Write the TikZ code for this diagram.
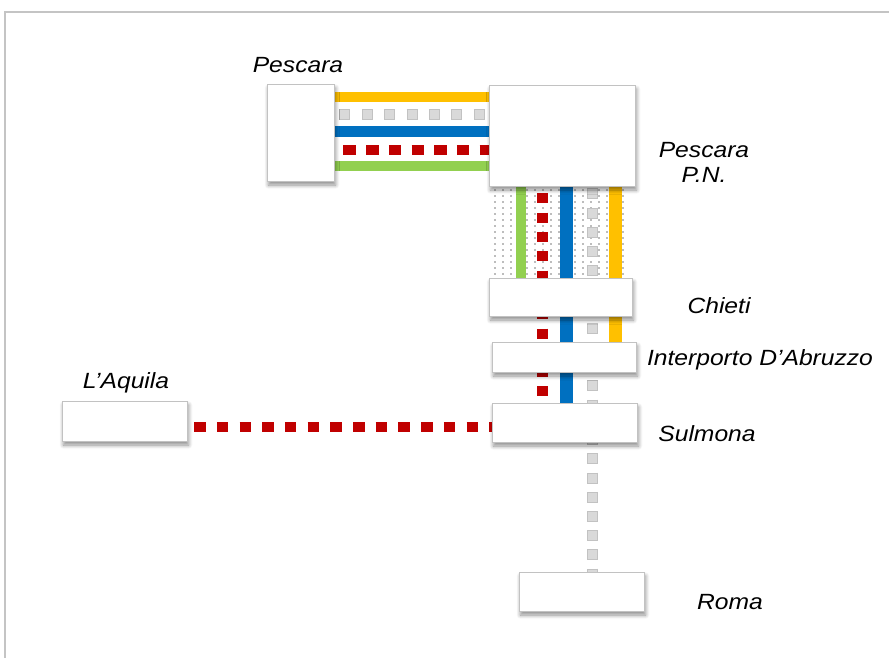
\documentclass[tikz,border=0pt]{standalone}
\usepackage{fontspec}
\setmainfont{Liberation Sans}
\usetikzlibrary{shadows.blur}
\definecolor{cyel}{HTML}{FFC000}
\definecolor{cblue}{HTML}{0070C0}
\definecolor{cgreen}{HTML}{92D050}
\definecolor{cred}{HTML}{C00000}
\definecolor{cgrayo}{HTML}{C2C2C2}
\definecolor{cgrayi}{HTML}{D9D9D9}
\definecolor{cframe}{HTML}{C4C4C4}
\definecolor{cdot}{HTML}{7A7A7A}
\pgfdeclarelayer{bg}
\pgfsetlayers{bg,main}
\begin{document}
\begin{tikzpicture}[x=1pt,y=-1pt,
  box/.style={draw=cgrayo, line width=0.8pt, fill=white, inner sep=0pt,
    blur shadow={shadow xshift=1.5pt, shadow yshift=-4pt, shadow blur radius=4pt, shadow blur steps=8, shadow opacity=45}},
  lbl/.style={font=\fontsize{22}{25}\selectfont\itshape, inner sep=0pt, align=center, text=black},
  yelline/.style={cyel, line width=10pt},
  blueline/.style={cblue, line width=11pt},
  greenline/.style={cgreen, line width=10pt},
  redh/.style={cred, line width=9.5pt, dash pattern=on 12.5pt off 10.2pt},
  redv/.style={cred, line width=11pt, dash pattern=on 10pt off 9.3pt},
  grayo/.style={cgrayo, line width=11pt},
  grayi/.style={cgrayi, line width=9pt},
]
\useasboundingbox (0,0) rectangle (889,658);
% frame
\draw[cframe, line width=2.5pt] (5,658) -- (5,12) -- (889,12);

% stations
\node[box, minimum width=67pt, minimum height=97pt] (pes) at (300.5,132.5) {};
\node[box, minimum width=146pt, minimum height=101pt] (pn) at (562,135.5) {};
\node[box, minimum width=143pt, minimum height=38pt] (chi) at (560.5,297) {};
\node[box, minimum width=144pt, minimum height=30pt] (int) at (564,357) {};
\node[box, minimum width=145pt, minimum height=39pt] (sul) at (564.5,422.5) {};
\node[box, minimum width=125pt, minimum height=40pt] (aq) at (124.5,421) {};
\node[box, minimum width=125pt, minimum height=39pt] (rom) at (581.5,591.5) {};

% labels
\node[lbl] (lpes) at (298,65) {\scalebox{1.12}[1]{Pescara}};
\node[lbl] (lpn) at (704,162) {\scalebox{1.12}[1]{Pescara}\\\scalebox{1.12}[1]{P.N.}};
\node[lbl] (lchi) at (719,306) {\scalebox{1.12}[1]{Chieti}};
\node[lbl] (lint) at (760,360) {\scalebox{1.12}[1]{Interporto D’Abruzzo}};
\node[lbl] (laq) at (126,383) {\scalebox{1.12}[1]{L’Aquila}};
\node[lbl] (lsul) at (707,434) {\scalebox{1.12}[1]{Sulmona}};
\node[lbl] (lrom) at (730,602) {\scalebox{1.12}[1]{Roma}};

\begin{pgfonlayer}{bg}
  % stipple between Pescara P.N. and Chieti
  \foreach \xx in {495,503,...,627}
    \foreach \yy in {190,196,...,276}
      \fill[cdot] (\xx,\yy) circle (0.8pt);
  % horizontal bundle Pescara -- Pescara P.N.
  \draw[yelline] (pes.east |- 0,97) -- (pn.west |- 0,97);
  \draw[grayo, dash pattern=on 11pt off 11.4pt, dash phase=17.4pt] (pes.east |- 0,115) -- (pn.west |- 0,115);
  \draw[grayi, dash pattern=on 9pt off 13.4pt, dash phase=16.4pt] (pes.east |- 0,115) -- (pn.west |- 0,115);
  \draw[blueline] (pes.east |- 0,132) -- (pn.west |- 0,132);
  \draw[redh, dash phase=13.7pt] (pes.east |- 0,150) -- (pn.west |- 0,150);
  \draw[greenline] (pes.east |- 0,166.5) -- (pn.west |- 0,166.5);
  % vertical bundle
  \draw[greenline] (520.5,0 |- pn.south) -- (520.5,0 |- chi.north);
  \draw[redv, dash phase=12.3pt] (542.5,0 |- pn.south) -- (542.5,0 |- sul.north);
  \draw[blueline, line width=13pt] (566,0 |- pn.south) -- (566,0 |- sul.north);
  \draw[grayo, dash pattern=on 11pt off 8.2pt, dash phase=17.2pt] (592.5,0 |- pn.south) -- (592.5,0 |- sul.north);
  \draw[grayi, dash pattern=on 9pt off 10.2pt, dash phase=16.2pt] (592.5,0 |- pn.south) -- (592.5,0 |- sul.north);
  \draw[yelline, line width=13pt] (615,0 |- pn.south) -- (615,0 |- int.north);
  % Sulmona -- Roma
  \draw[grayo, dash pattern=on 11pt off 8.2pt, dash phase=8.2pt] (592.5,0 |- sul.south) -- (592.5,0 |- rom.north);
  \draw[grayi, dash pattern=on 9pt off 10.2pt, dash phase=7.2pt] (592.5,0 |- sul.south) -- (592.5,0 |- rom.north);
  % L'Aquila -- Sulmona
  \draw[redh, line width=10pt, dash pattern=on 11.5pt off 11.2pt, dash phase=16pt] (aq.east |- 0,427) -- (sul.west |- 0,427);
\end{pgfonlayer}
\end{tikzpicture}
\end{document}
